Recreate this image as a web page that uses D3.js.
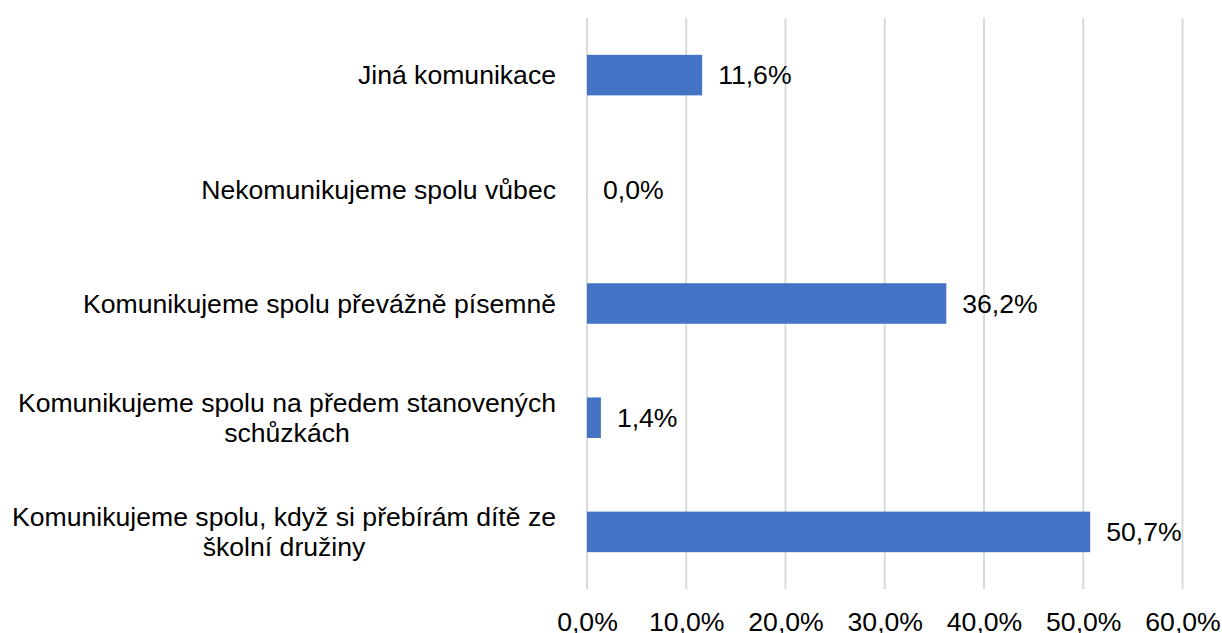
<!DOCTYPE html>
<html>
<head>
<meta charset="utf-8">
<script src="https://cdn.jsdelivr.net/npm/d3@7"></script>
<style>
  body { margin: 0; background: #fff; }
  svg text { font-family: "Liberation Sans", Arial, sans-serif; fill: #000; }
</style>
</head>
<body>
<svg width="1222" height="633"></svg>
<script>
// categories top to bottom, each one split into its lines
var categories = [
    ["Jiná komunikace"],
    ["Nekomunikujeme spolu vůbec"],
    ["Komunikujeme spolu převážně písemně"],
    ["Komunikujeme spolu na předem stanovených", "schůzkách"],
    ["Komunikujeme spolu, když si přebírám dítě ze", "školní družiny"]
];
var values = [11.6, 0.0, 36.2, 1.4, 50.7];
var ticks = [0, 10, 20, 30, 40, 50, 60];

var fontSize = "26.6px";

var svg = d3.select("svg"),
    margin = { top: 18, right: 40, bottom: 44, left: 587 },
    width = +svg.attr("width") - margin.left - margin.right,
    height = +svg.attr("height") - margin.top - margin.bottom,
    g = svg.append("g").attr("transform", "translate(" + margin.left + "," + margin.top + ")");

var fmt = function(v) { return v.toFixed(1).replace(".", ",") + "%"; };

var x = d3.scaleLinear()
    .domain([0, 60])
    .range([0, 595.5]);

var y = d3.scaleBand()
    .domain(d3.range(categories.length))
    .range([0, height])
    .paddingInner(0.645)
    .paddingOuter(0.3225);

/* ==================== GRID ==================== */

g.append("g")
    .selectAll("line")
    .data(ticks)
    .enter().append("line")
    .attr("x1", function(d) { return x(d); })
    .attr("x2", function(d) { return x(d); })
    .attr("y1", 0)
    .attr("y2", height)
    .attr("stroke", "#d9d9d9")
    .attr("stroke-width", 2);

// x axis labels
var xAxis = g.append("g")
    .attr("transform", "translate(0," + height + ")")
    .call(d3.axisBottom(x).tickValues(ticks).tickFormat(fmt).tickSize(0).tickPadding(23));
xAxis.select(".domain").remove();
xAxis.selectAll("text")
    .attr("font-size", fontSize)
    .style("font-family", "'Liberation Sans', Arial, sans-serif");

/* ==================== BARS ==================== */

g.append("g")
    .selectAll("rect")
    .data(values)
    .enter().append("rect")
    .attr("x", x(0))
    .attr("y", function(d, i) { return y(i); })
    .attr("width", function(d) { return x(d) - x(0); })
    .attr("height", y.bandwidth())
    .attr("fill", "#4472C4");

// value labels
g.append("g")
    .selectAll("text")
    .data(values)
    .enter().append("text")
    .attr("x", function(d) { return x(d) + 16; })
    .attr("y", function(d, i) { return y(i) + y.bandwidth() / 2; })
    .attr("dy", "0.35em")
    .attr("font-size", fontSize)
    .text(fmt);

/* ==================== CATEGORY LABELS ==================== */

var lineH = 30;
var labels = g.append("g")
    .selectAll("g")
    .data(categories)
    .enter().append("g")
    .attr("transform", function(d, i) {
        return "translate(-31," + (y(i) + y.bandwidth() / 2) + ")";
    });

labels.each(function(lines) {
    var el = d3.select(this);
    var t = el.append("text")
        .attr("font-size", fontSize)
        .attr("text-anchor", "end");
    var tspans = t.selectAll("tspan")
        .data(lines)
        .enter().append("tspan")
        .attr("x", 0)
        .attr("y", function(d, j) { return (j - (lines.length - 1) / 2) * lineH; })
        .attr("dy", "0.35em")
        .text(function(d) { return d; });
    // center shorter lines under the widest one
    if (lines.length > 1) {
        var widths = [];
        tspans.each(function() { widths.push(this.getComputedTextLength()); });
        var maxW = d3.max(widths);
        tspans.attr("x", function(d, j) { return -(maxW - widths[j]) / 2; });
    }
});
</script>
</body>
</html>
